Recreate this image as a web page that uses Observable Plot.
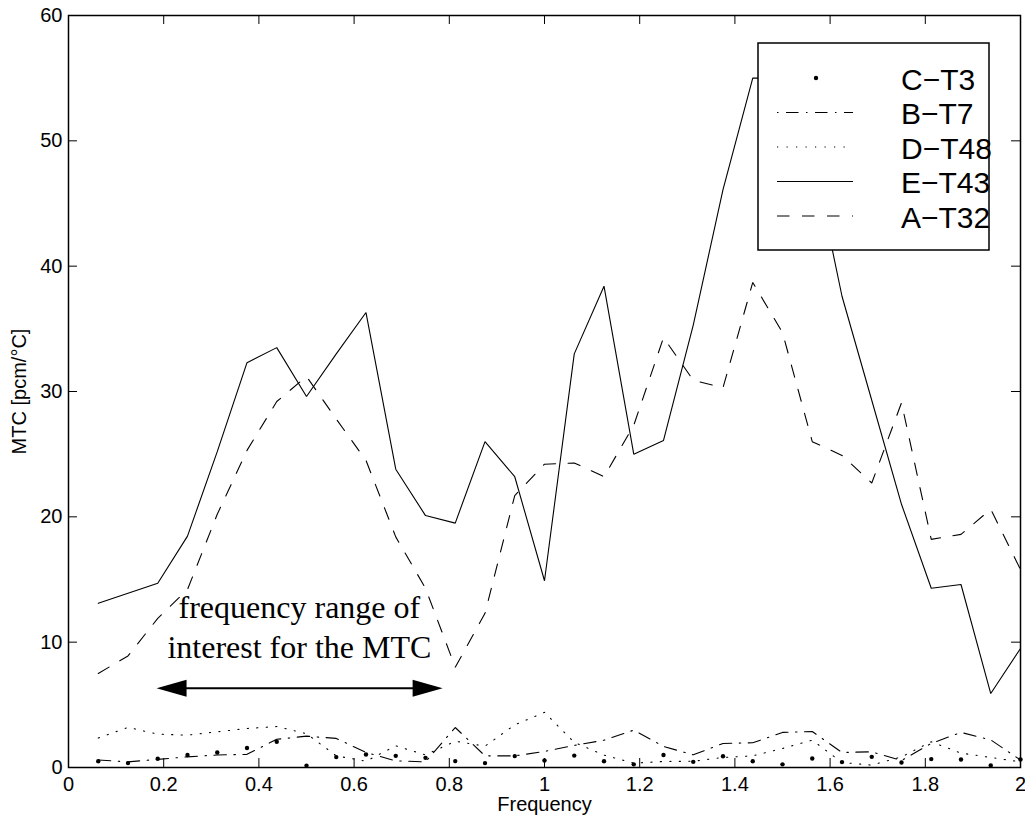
<!DOCTYPE html>
<html><head><meta charset="utf-8">
<script src="https://cdn.jsdelivr.net/npm/d3@7"></script>
<script src="https://cdn.jsdelivr.net/npm/@observablehq/plot@0.6"></script>
<style>
body{margin:0;background:#fff;}
#chart{position:relative;width:1025px;height:823px;}
</style></head><body><div id="chart"></div>
<script>
// ---- data ----
const frequency = [0.0625, 0.125, 0.1875, 0.25, 0.3125, 0.375, 0.4375, 0.5,
  0.5625, 0.625, 0.6875, 0.75, 0.8125, 0.875, 0.9375, 1.0,
  1.0625, 1.125, 1.1875, 1.25, 1.3125, 1.375, 1.4375, 1.5,
  1.5625, 1.625, 1.6875, 1.75, 1.8125, 1.875, 1.9375, 2.0];
const cT3 = [0.5, 0.35, 0.7, 1.0, 1.2, 1.55, 2.05, 0.15,
  0.83, 1.04, 0.93, 0.77, 0.51, 0.35, 0.91, 0.56,
  0.95, 0.5, 0.25, 1.0, 0.45, 0.9, 0.5, 0.25,
  0.72, 0.43, 0.85, 0.4, 0.67, 0.64, 0.16, 0.64];
const bT7 = [0.6, 0.45, 0.65, 0.85, 1.0, 1.05, 2.25, 2.5,
  2.32, 1.2, 0.53, 0.45, 3.19, 0.93, 0.93, 1.28,
  1.76, 2.18, 2.98, 1.68, 1.01, 1.92, 1.97, 2.8,
  2.87, 1.2, 1.25, 0.55, 1.92, 2.8, 2.2, 0.6];
const dT48 = [2.35, 3.2, 2.66, 2.58, 2.85, 3.11, 3.27, 2.7,
  0.93, 0.5, 1.73, 1.0, 2.1, 1.7, 3.4, 4.4,
  2.0, 0.99, 0.35, 0.48, 0.5, 0.8, 0.93, 1.52,
  2.18, 0.4, 0.19, 0.85, 2.05, 1.15, 0.8, 0.45];
const eT43 = [13.1, 13.9, 14.7, 18.46, 25.2, 32.3, 33.5, 29.6,
  33.0, 36.3, 23.8, 20.1, 19.5, 26.0, 23.2, 14.9,
  33.0, 38.4, 25.0, 26.1, 35.3, 46.1, 55.0, 55.0,
  49.0, 37.6, 29.3, 21.0, 14.3, 14.6, 5.9, 9.5];
const aT32 = [7.5, 8.9, 11.9, 14.2, 20.2, 25.3, 29.2, 31.2,
  27.8, 24.5, 18.4, 14.3, 8.0, 12.3, 21.7, 24.2,
  24.3, 23.2, 27.3, 34.3, 30.9, 30.3, 38.7, 34.7,
  26.0, 24.9, 22.7, 29.1, 18.2, 18.6, 20.6, 15.8];
const seriesNames = ["C\u2212T3", "B\u2212T7", "D\u2212T48", "E\u2212T43", "A\u2212T32"];
const xTicks = [0, 0.2, 0.4, 0.6, 0.8, 1, 1.2, 1.4, 1.6, 1.8, 2];
const yTicks = [0, 10, 20, 30, 40, 50, 60];
const xLabel = "Frequency";
const yLabel = "MTC [pcm/\u00B0C]";
const annotationText = ["frequency range of", "interest for the MTC"];
const annotationAt = {x: 0.485, y: 8.7};
const arrowFrom = 0.185, arrowTo = 0.786, arrowLevel = 6.33;

// ---- styles ----
const styles = {
  "C\u2212T3": {kind: "dot"},
  "B\u2212T7": {dash: "12.5,7.5,1.5,7.5", width: 1.1, legendDash: "1.5,7.5,12.5,7.5"},
  "D\u2212T48": {dash: "1.2,8.3", width: 1.1},
  "E\u2212T43": {dash: null, width: 1.1},
  "A\u2212T32": {dash: "12.5,12.5", width: 1.1}
};
const valuesBySeries = {
  "C\u2212T3": cT3, "B\u2212T7": bT7, "D\u2212T48": dT48, "E\u2212T43": eT43, "A\u2212T32": aT32
};
const rows = name => frequency.map((f, i) => ({series: name, x: f, y: valuesBySeries[name][i]}));

const W = 1025, H = 823, mL = 68, mR = 5, mT = 15, mB = 56;
const fw = W - mL - mR, fh = H - mT - mB, tickLen = 9;

const headLeft = {draw(ctx) { ctx.moveTo(0, 0); ctx.lineTo(30, -8.5); ctx.lineTo(30, 8.5); ctx.closePath(); }};
const headRight = {draw(ctx) { ctx.moveTo(0, 0); ctx.lineTo(-30, -8.5); ctx.lineTo(-30, 8.5); ctx.closePath(); }};

const lineMarks = ["A\u2212T32", "E\u2212T43", "D\u2212T48", "B\u2212T7"].map(name =>
  Plot.line(rows(name), {x: "x", y: "y", stroke: "black", strokeWidth: styles[name].width,
    strokeDasharray: styles[name].dash, strokeLinejoin: "miter"}));

const svg = Plot.plot({
  width: W, height: H,
  marginLeft: mL, marginRight: mR, marginTop: mT, marginBottom: mB,
  style: {fontFamily: "'Liberation Sans', Arial, Helvetica, sans-serif", fontSize: "20px", background: "white", color: "black"},
  x: {domain: [0, 2]},
  y: {domain: [0, 60]},
  marks: [
    ...lineMarks,
    Plot.dot(rows("C\u2212T3"), {x: "x", y: "y", r: 2.2, fill: "black"}),
    // annotation
    Plot.text([annotationText.join("\n")], {x: () => annotationAt.x, y: () => annotationAt.y, text: d => d,
      fontFamily: "'Liberation Serif', 'Times New Roman', serif", fontSize: 32, lineHeight: 1.25,
      lineAnchor: "bottom", textAnchor: "middle", fill: "black"}),
    Plot.ruleY([arrowLevel], {x1: arrowFrom, x2: arrowTo, stroke: "black", strokeWidth: 2, insetLeft: 15, insetRight: 15}),
    Plot.dot([arrowFrom], {x: d => d, y: () => arrowLevel, symbol: headLeft, fill: "black", stroke: "none", r: 5}),
    Plot.dot([arrowTo], {x: d => d, y: () => arrowLevel, symbol: headRight, fill: "black", stroke: "none", r: 5}),
    // inward ticks
    Plot.tickY(yTicks, {y: d => d, insetRight: fw - tickLen, stroke: "black", strokeWidth: 1}),
    Plot.tickY(yTicks, {y: d => d, insetLeft: fw - tickLen, stroke: "black", strokeWidth: 1}),
    Plot.tickX(xTicks, {x: d => d, insetTop: fh - tickLen, stroke: "black", strokeWidth: 1}),
    Plot.tickX(xTicks, {x: d => d, insetBottom: fh - tickLen, stroke: "black", strokeWidth: 1}),
    Plot.frame({stroke: "black", strokeWidth: 1.5}),
    Plot.axisY({ticks: yTicks, tickSize: 0, tickPadding: 6, label: null, tickFormat: d => String(d)}),
    Plot.axisX({ticks: xTicks, tickSize: 0, tickPadding: 9, label: null, tickFormat: d => String(d)}),
    Plot.text([xLabel], {frameAnchor: "bottom", text: d => d, dy: 37, lineAnchor: "middle", textAnchor: "middle", fontSize: 20}),
    Plot.text([yLabel], {frameAnchor: "left", text: d => d, dx: -49, rotate: -90, lineAnchor: "middle", textAnchor: "middle", fontSize: 20})
  ]
});
document.getElementById("chart").appendChild(svg);

// ---- legend (inside the axes, top right) ----
const lg = d3.select(svg).append("g").attr("class", "legend");
const box = {x: 758, y: 43, w: 231, h: 207};
lg.append("rect").attr("x", box.x).attr("y", box.y).attr("width", box.w).attr("height", box.h)
  .attr("fill", "white").attr("stroke", "black").attr("stroke-width", 1.5);
seriesNames.forEach((name, i) => {
  const cy = 78 + i * 34.5;
  const st = styles[name];
  if (st.kind === "dot") {
    lg.append("circle").attr("cx", 816).attr("cy", cy).attr("r", 2.2).attr("fill", "black");
  } else {
    lg.append("line").attr("x1", 777).attr("x2", 853).attr("y1", cy).attr("y2", cy)
      .attr("stroke", "black").attr("stroke-width", st.width)
      .attr("stroke-dasharray", st.legendDash || st.dash);
  }
  lg.append("text").attr("x", 901).attr("y", cy + 11.5).attr("font-size", 30)
    .attr("text-anchor", "start")
    .attr("font-family", "'Liberation Sans', Arial, sans-serif").attr("fill", "black").text(name);
});
</script>
</body></html>
